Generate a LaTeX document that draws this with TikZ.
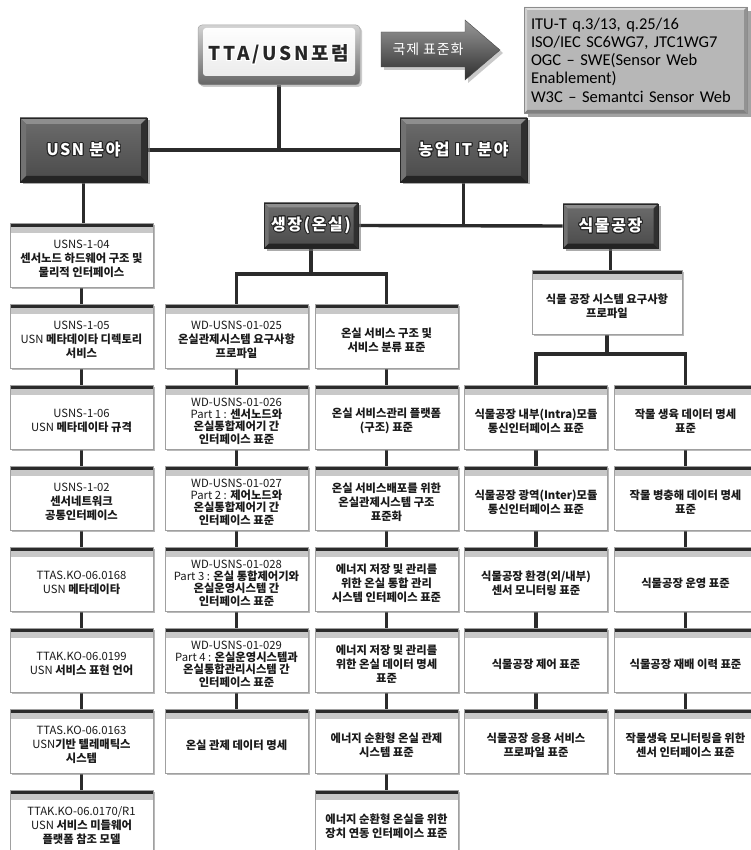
\documentclass[tikz,border=0pt]{standalone}
\usepackage{fontspec}
\usepackage[copies]{contour}
\usetikzlibrary{shadows}
\setmainfont{Noto Sans CJK KR}
\newfontfamily\hdfont[LetterSpace=10]{Noto Sans CJK KR}
\newfontfamily\ttafont[LetterSpace=14]{Noto Sans CJK KR}
\newfontfamily\arrfont[LetterSpace=6]{Noto Sans CJK KR}
\newfontfamily\itufont{Carlito}
\definecolor{lineC}{HTML}{2B2B2B}
\definecolor{bandC}{HTML}{C8C8C8}
\definecolor{borderC}{HTML}{A0A0A0}
\definecolor{textC}{HTML}{1A1A1A}
\definecolor{hdrTop}{HTML}{6C6C6C}
\definecolor{hdrBot}{HTML}{4A4A4A}
\definecolor{bevTop}{HTML}{8E8E8E}
\definecolor{bevBot}{HTML}{242424}
\definecolor{bevLeft}{HTML}{727272}
\definecolor{bevRight}{HTML}{303030}
\definecolor{ituC}{HTML}{B7B7B7}
\newcommand\code[1]{{\mdseries #1}}
\pgfdeclarelayer{bg}
\pgfsetlayers{bg,main}
\contourlength{0.9pt}
\contournumber{20}
\newcommand\stdnode[5][boxtext]{\node[stdbox,label={[#1]center:{#5}}] (#2) at (#3,#4) {};}
\begin{document}
\begin{tikzpicture}[x=1pt,y=-1pt,
  conn/.style={draw=lineC, line width=3.4pt},
  stdbox/.style={draw=borderC, line width=0.7pt, fill=white, minimum width=143pt, minimum height=64pt, inner sep=0pt,
    drop shadow={shadow xshift=1.6pt, shadow yshift=-1.6pt, fill=black!50, opacity=0.55},
    path picture={
      \fill[bandC] (path picture bounding box.north west) rectangle ([yshift=-10pt]path picture bounding box.north east);
      \fill[lineC] (path picture bounding box.north west) rectangle ([yshift=-3.8pt]path picture bounding box.north east);}},
  boxtext/.style={align=center, text=textC, font=\bfseries\fontsize{11.3}{14}\selectfont, yshift=-4pt},
  boxtextc/.style={boxtext, font=\bfseries\fontsize{11.3}{12.4}\selectfont},
  bevel/.style n args={5}{path picture={
    \fill[#1] (path picture bounding box.north west) -- (path picture bounding box.north east) -- ([xshift=-#5,yshift=-#5]path picture bounding box.north east) -- ([xshift=#5,yshift=-#5]path picture bounding box.north west) -- cycle;
    \fill[#2] (path picture bounding box.south west) -- (path picture bounding box.south east) -- ([xshift=-#5,yshift=#5]path picture bounding box.south east) -- ([xshift=#5,yshift=#5]path picture bounding box.south west) -- cycle;
    \fill[#3] (path picture bounding box.north west) -- ([xshift=#5,yshift=-#5]path picture bounding box.north west) -- ([xshift=#5,yshift=#5]path picture bounding box.south west) -- (path picture bounding box.south west) -- cycle;
    \fill[#4] (path picture bounding box.north east) -- ([xshift=-#5,yshift=-#5]path picture bounding box.north east) -- ([xshift=-#5,yshift=#5]path picture bounding box.south east) -- (path picture bounding box.south east) -- cycle;}},
  hdr/.style={inner sep=0pt, top color=hdrTop, bottom color=hdrBot, draw=black!85, line width=0.6pt, text=white,
    font=\hdfont\bfseries\fontsize{16}{16}\selectfont,
    drop shadow={shadow xshift=2.5pt, shadow yshift=-2.5pt, fill=black!55, opacity=0.6},
    bevel={bevTop}{bevBot}{bevLeft}{bevRight}{#1}},
  hdr/.default=6pt,
  ttabox/.style={rounded corners=4pt, top color=gray!35, bottom color=black!60, draw=gray!70, line width=0.5pt,
    minimum width=162pt, minimum height=60pt, inner sep=0pt,
    drop shadow={shadow xshift=2pt, shadow yshift=-2pt, fill=black!40, opacity=0.5},
    path picture={\shade[top color=white, bottom color=gray!18, rounded corners=3pt] ([xshift=5pt,yshift=-3pt]path picture bounding box.north west) rectangle ([xshift=-5pt,yshift=9pt]path picture bounding box.south east);},
    font=\ttafont\bfseries\fontsize{19}{19}\selectfont, text=black!85},
  itubox/.style={fill=ituC, draw=black!45, line width=0.5pt, minimum width=223pt, minimum height=106pt,
    text width=209pt, align=left, inner xsep=7pt, inner ysep=0pt,
    font=\itufont\fontsize{16.5}{18.3}\selectfont, text=black,
    drop shadow={shadow xshift=4pt, shadow yshift=-4pt, fill=black!60, opacity=0.6},
    bevel={white!55!ituC}{black!30!ituC}{white!35!ituC}{black!20!ituC}{3pt}}
]
\begin{pgfonlayer}{bg}
\fill[white] (0,0) rectangle (751,850);
\end{pgfonlayer}
\useasboundingbox (0,0) rectangle (751,850);

% top level
\node[ttabox] (tta) at (279,55) {\contour{white}{TTA/USN포럼}};
\fill[black!35, opacity=0.6] (384,35) -- (468,35) -- (468,23) -- (503,53) -- (468,83) -- (468,70) -- (384,70) -- cycle;
\shade[top color=black!40, bottom color=black!82, draw=black!70, line width=0.4pt] (381,32) -- (465,32) -- (465,20) -- (500,50) -- (465,80) -- (465,67) -- (381,67) -- cycle;
\node[font=\arrfont\fontsize{14}{14}\selectfont, text=white] (intl) at (428,49.5) {국제 표준화};
\node[itubox] (itu) at (635.5,60) {ITU-T q.3/13, q.25/16\\ISO/IEC SC6WG7, JTC1WG7\\OGC – SWE(Sensor Web\\Enablement)\\W3C – Semantci Sensor Web};

% headers
\node[hdr, minimum width=127pt, minimum height=64pt] (usn) at (83.5,150) {\contour{black!85}{USN 분야}};
\node[hdr, minimum width=127pt, minimum height=64pt] (agri) at (463.5,150) {\contour{black!85}{농업 IT 분야}};
\node[hdr=4.5pt, minimum width=94pt, minimum height=45pt] (grow) at (311,225.5) {\contour{black!85}{생장(온실)}};
\node[hdr=4.5pt, minimum width=95pt, minimum height=44pt] (plant) at (610.5,226) {\contour{black!85}{식물공장}};

% left column
\stdnode{L0}{81.5}{255}{\code{USNS-1-04}\\센서노드 하드웨어 구조 및\\물리적 인터페이스}
\stdnode{L1}{81.5}{336}{\code{USNS-1-05}\\\code{USN} 메타데이타 디렉토리\\서비스}
\stdnode{L2}{81.5}{417}{\code{USNS-1-06}\\\code{USN} 메타데이타 규격}
\stdnode{L3}{81.5}{498}{\code{USNS-1-02}\\센서네트워크\\공통인터페이스}
\stdnode{L4}{81.5}{579}{\code{TTAS.KO-06.0168}\\\code{USN} 메타데이타}
\stdnode{L5}{81.5}{660}{\code{TTAK.KO-06.0199}\\\code{USN} 서비스 표현 언어}
\stdnode{L6}{81.5}{741}{\code{TTAS.KO-06.0163}\\\code{USN}기반 텔레매틱스\\시스템}
\stdnode{L7}{81.5}{822}{\code{TTAK.KO-06.0170/R1}\\\code{USN} 서비스 미들웨어\\플랫폼 참조 모델}

% middle column 1
\stdnode{Ma}{236.5}{336}{\code{WD-USNS-01-025}\\온실관제시스템 요구사항\\프로파일}
\stdnode[boxtextc]{Mb}{236.5}{417}{\code{WD-USNS-01-026}\\\code{Part 1 :} 센서노드와\\온실통합제어기 간\\인터페이스 표준}
\stdnode[boxtextc]{Mc}{236.5}{498}{\code{WD-USNS-01-027}\\\code{Part 2 :} 제어노드와\\온실통합제어기 간\\인터페이스 표준}
\stdnode[boxtextc]{Md}{236.5}{579}{\code{WD-USNS-01-028}\\\code{Part 3 :} 온실 통합제어기와\\온실운영시스템 간\\인터페이스 표준}
\stdnode[boxtextc]{Me}{236.5}{660}{\code{WD-USNS-01-029}\\\code{Part 4 :} 온실운영시스템과\\온실통합관리시스템 간\\인터페이스 표준}
\stdnode{Mf}{236.5}{741}{온실 관제 데이터 명세}

% middle column 2
\stdnode{Na}{386.5}{336}{온실 서비스 구조 및\\서비스 분류 표준}
\stdnode{Nb}{386.5}{417}{온실 서비스관리 플랫폼\\(구조) 표준}
\stdnode{Nc}{386.5}{498}{온실 서비스배포를 위한\\온실관제시스템 구조\\표준화}
\stdnode{Nd}{386.5}{579}{에너지 저장 및 관리를\\위한 온실 통합 관리\\시스템 인터페이스 표준}
\stdnode{Ne}{386.5}{660}{에너지 저장 및 관리를\\위한 온실 데이터 명세\\표준}
\stdnode{Nf}{386.5}{741}{에너지 순환형 온실 관제\\시스템 표준}
\stdnode{Ng}{386.5}{822}{에너지 순환형 온실을 위한\\장치 연동 인터페이스 표준}

% plant factory
\node[stdbox, minimum width=150pt, label={[boxtext]center:{식물 공장 시스템 요구사항\\프로파일}}] (psys) at (607,302) {};
\stdnode{Ra}{536}{417}{식물공장 내부(Intra)모듈\\통신인터페이스 표준}
\stdnode{Rb}{536}{498}{식물공장 광역(Inter)모듈\\통신인터페이스 표준}
\stdnode{Rc}{536}{579}{식물공장 환경(외/내부)\\센서 모니터링 표준}
\stdnode{Rd}{536}{660}{식물공장 제어 표준}
\stdnode{Re}{536}{741}{식물공장 응용 서비스\\프로파일 표준}
\stdnode{Sa}{685.5}{417}{작물 생육 데이터 명세\\표준}
\stdnode{Sb}{685.5}{498}{작물 병충해 데이터 명세\\표준}
\stdnode{Sc}{685.5}{579}{식물공장 운영 표준}
\stdnode{Sd}{685.5}{660}{식물공장 재배 이력 표준}
\stdnode{Se}{685.5}{741}{작물생육 모니터링을 위한\\센서 인터페이스 표준}

\coordinate (gy) at (311,274);
\coordinate (py) at (607,354);
\begin{pgfonlayer}{bg}
\draw[conn] (tta.south) -- (tta.south |- usn.east);
\draw[conn] (usn.east) -- (agri.west);
\draw[conn] (usn.south) -- (usn.south |- L0.north);
\draw[conn] (agri.south) -- (agri.south |- grow.east);
\draw[conn] (grow.east) -- (plant.west);
\draw[conn] (grow.south) -- (gy);
\draw[conn] (Ma.north) |- (gy) -| (Na.north);
\draw[conn] (plant.south) -- (plant.south |- psys.north);
\draw[conn] (psys.south) -- (py);
\draw[conn] (Ra.north) |- (py) -| (Sa.north);
\foreach \a/\b in {L0/L1,L1/L2,L2/L3,L3/L4,L4/L5,L5/L6,L6/L7,Ma/Mb,Mb/Mc,Mc/Md,Md/Me,Me/Mf,Na/Nb,Nb/Nc,Nc/Nd,Nd/Ne,Ne/Nf,Nf/Ng,Ra/Rb,Rb/Rc,Rc/Rd,Rd/Re,Sa/Sb,Sb/Sc,Sc/Sd,Sd/Se}
  \draw[conn] (\a.south) -- (\b.north);
\end{pgfonlayer}
\end{tikzpicture}
\end{document}
